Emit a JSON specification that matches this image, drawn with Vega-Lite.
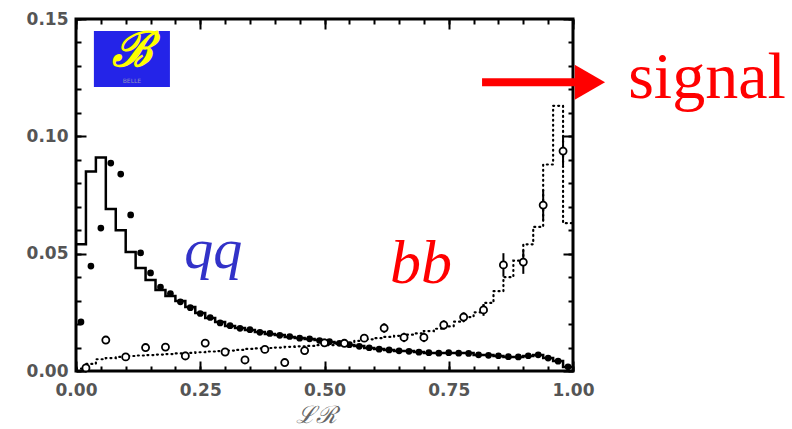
{
  "$schema": "https://vega.github.io/schema/vega-lite/v6.json",
  "width": 497,
  "height": 352,
  "autosize": {"type": "none"},
  "padding": {"left": 76, "top": 19, "right": 219, "bottom": 58},
  "background": "white",
  "config": {
    "view": {"stroke": "black", "strokeWidth": 3},
    "axis": {
      "domain": false, "grid": false, "tickColor": "black", "tickWidth": 2,
      "labelFont": "DejaVu Sans", "labelFontSize": 17, "labelFontWeight": "bold",
      "labelColor": "#555555", "labelFlush": false, "labelOverlap": false
    }
  },
  "datasets": {
    "qqhist": [
      {"lr": 0.00, "frac": 0.054}, {"lr": 0.02, "frac": 0.085}, {"lr": 0.04, "frac": 0.091}, {"lr": 0.06, "frac": 0.069},
      {"lr": 0.08, "frac": 0.060}, {"lr": 0.10, "frac": 0.0507}, {"lr": 0.12, "frac": 0.0439}, {"lr": 0.14, "frac": 0.0388},
      {"lr": 0.16, "frac": 0.0345}, {"lr": 0.18, "frac": 0.032}, {"lr": 0.20, "frac": 0.0298}, {"lr": 0.22, "frac": 0.0273},
      {"lr": 0.24, "frac": 0.0247}, {"lr": 0.26, "frac": 0.0226}, {"lr": 0.28, "frac": 0.0209}, {"lr": 0.30, "frac": 0.0192},
      {"lr": 0.32, "frac": 0.0183}, {"lr": 0.34, "frac": 0.0175}, {"lr": 0.36, "frac": 0.0166}, {"lr": 0.38, "frac": 0.0158},
      {"lr": 0.40, "frac": 0.0153}, {"lr": 0.42, "frac": 0.0145}, {"lr": 0.44, "frac": 0.0141}, {"lr": 0.46, "frac": 0.0136},
      {"lr": 0.48, "frac": 0.0132}, {"lr": 0.50, "frac": 0.0124}, {"lr": 0.52, "frac": 0.0119}, {"lr": 0.54, "frac": 0.0111},
      {"lr": 0.56, "frac": 0.0107}, {"lr": 0.58, "frac": 0.0098}, {"lr": 0.60, "frac": 0.0094}, {"lr": 0.62, "frac": 0.0089},
      {"lr": 0.64, "frac": 0.0085}, {"lr": 0.66, "frac": 0.0085}, {"lr": 0.68, "frac": 0.0081}, {"lr": 0.70, "frac": 0.0077},
      {"lr": 0.72, "frac": 0.0077}, {"lr": 0.74, "frac": 0.0077}, {"lr": 0.76, "frac": 0.0077}, {"lr": 0.78, "frac": 0.0077},
      {"lr": 0.80, "frac": 0.0068}, {"lr": 0.82, "frac": 0.0068}, {"lr": 0.84, "frac": 0.0064}, {"lr": 0.86, "frac": 0.006},
      {"lr": 0.88, "frac": 0.006}, {"lr": 0.90, "frac": 0.0064}, {"lr": 0.92, "frac": 0.0068}, {"lr": 0.94, "frac": 0.0055},
      {"lr": 0.96, "frac": 0.0043}, {"lr": 0.98, "frac": 0.0017}, {"lr": 1.00, "frac": 0.0017}
    ],
    "bbhist": [
      {"lr": 0.00, "frac": 0.001}, {"lr": 0.02, "frac": 0.003}, {"lr": 0.04, "frac": 0.005}, {"lr": 0.06, "frac": 0.0055},
      {"lr": 0.08, "frac": 0.006}, {"lr": 0.10, "frac": 0.0064}, {"lr": 0.12, "frac": 0.0066}, {"lr": 0.14, "frac": 0.0068},
      {"lr": 0.16, "frac": 0.007}, {"lr": 0.18, "frac": 0.0072}, {"lr": 0.20, "frac": 0.0075}, {"lr": 0.22, "frac": 0.0077},
      {"lr": 0.24, "frac": 0.008}, {"lr": 0.26, "frac": 0.0083}, {"lr": 0.28, "frac": 0.0085}, {"lr": 0.30, "frac": 0.0087},
      {"lr": 0.32, "frac": 0.009}, {"lr": 0.34, "frac": 0.0094}, {"lr": 0.36, "frac": 0.0096}, {"lr": 0.38, "frac": 0.0098},
      {"lr": 0.40, "frac": 0.010}, {"lr": 0.42, "frac": 0.0103}, {"lr": 0.44, "frac": 0.0105}, {"lr": 0.46, "frac": 0.0107},
      {"lr": 0.48, "frac": 0.011}, {"lr": 0.50, "frac": 0.011}, {"lr": 0.52, "frac": 0.0115}, {"lr": 0.54, "frac": 0.012},
      {"lr": 0.56, "frac": 0.0128}, {"lr": 0.58, "frac": 0.0135}, {"lr": 0.60, "frac": 0.014}, {"lr": 0.62, "frac": 0.0145},
      {"lr": 0.64, "frac": 0.015}, {"lr": 0.66, "frac": 0.0155}, {"lr": 0.68, "frac": 0.016}, {"lr": 0.70, "frac": 0.017},
      {"lr": 0.72, "frac": 0.018}, {"lr": 0.74, "frac": 0.019}, {"lr": 0.76, "frac": 0.021}, {"lr": 0.78, "frac": 0.023},
      {"lr": 0.80, "frac": 0.025}, {"lr": 0.82, "frac": 0.029}, {"lr": 0.84, "frac": 0.034}, {"lr": 0.86, "frac": 0.040},
      {"lr": 0.88, "frac": 0.047}, {"lr": 0.90, "frac": 0.054}, {"lr": 0.92, "frac": 0.0614}, {"lr": 0.94, "frac": 0.088},
      {"lr": 0.96, "frac": 0.113}, {"lr": 0.98, "frac": 0.063}, {"lr": 1.00, "frac": 0.063}
    ],
    "qqpts": [
      {"lr": 0.01, "frac": 0.0209}, {"lr": 0.03, "frac": 0.0447}, {"lr": 0.05, "frac": 0.0609}, {"lr": 0.07, "frac": 0.0886},
      {"lr": 0.09, "frac": 0.0839}, {"lr": 0.11, "frac": 0.0665}, {"lr": 0.13, "frac": 0.0503}, {"lr": 0.15, "frac": 0.0418},
      {"lr": 0.17, "frac": 0.0358}, {"lr": 0.19, "frac": 0.033}, {"lr": 0.21, "frac": 0.0295}, {"lr": 0.23, "frac": 0.027},
      {"lr": 0.25, "frac": 0.0245}, {"lr": 0.27, "frac": 0.0228}, {"lr": 0.29, "frac": 0.0205}, {"lr": 0.31, "frac": 0.0193},
      {"lr": 0.33, "frac": 0.0182}, {"lr": 0.35, "frac": 0.0176}, {"lr": 0.37, "frac": 0.0165}, {"lr": 0.39, "frac": 0.016},
      {"lr": 0.41, "frac": 0.0152}, {"lr": 0.43, "frac": 0.0147}, {"lr": 0.45, "frac": 0.014}, {"lr": 0.47, "frac": 0.0137},
      {"lr": 0.49, "frac": 0.013}, {"lr": 0.51, "frac": 0.0125}, {"lr": 0.53, "frac": 0.0118}, {"lr": 0.55, "frac": 0.0112},
      {"lr": 0.57, "frac": 0.0105}, {"lr": 0.59, "frac": 0.0099}, {"lr": 0.61, "frac": 0.0093}, {"lr": 0.63, "frac": 0.009},
      {"lr": 0.65, "frac": 0.0086}, {"lr": 0.67, "frac": 0.0084}, {"lr": 0.69, "frac": 0.008}, {"lr": 0.71, "frac": 0.0078},
      {"lr": 0.73, "frac": 0.0076}, {"lr": 0.75, "frac": 0.0078}, {"lr": 0.77, "frac": 0.0076}, {"lr": 0.79, "frac": 0.0075},
      {"lr": 0.81, "frac": 0.0069}, {"lr": 0.83, "frac": 0.0067}, {"lr": 0.85, "frac": 0.0065}, {"lr": 0.87, "frac": 0.0061},
      {"lr": 0.89, "frac": 0.006}, {"lr": 0.91, "frac": 0.0065}, {"lr": 0.93, "frac": 0.0069}, {"lr": 0.95, "frac": 0.0055},
      {"lr": 0.97, "frac": 0.0042}, {"lr": 0.99, "frac": 0.0018}
    ],
    "bbpts": [
      {"lr": 0.02, "frac": 0.0013, "err": 0.0015}, {"lr": 0.06, "frac": 0.0132, "err": 0.0015},
      {"lr": 0.10, "frac": 0.006, "err": 0.0015}, {"lr": 0.14, "frac": 0.010, "err": 0.0015},
      {"lr": 0.18, "frac": 0.0102, "err": 0.0015}, {"lr": 0.22, "frac": 0.0064, "err": 0.0015},
      {"lr": 0.26, "frac": 0.0119, "err": 0.0015}, {"lr": 0.30, "frac": 0.0081, "err": 0.0015},
      {"lr": 0.34, "frac": 0.0047, "err": 0.0015}, {"lr": 0.38, "frac": 0.0092, "err": 0.0015},
      {"lr": 0.42, "frac": 0.0036, "err": 0.0015}, {"lr": 0.46, "frac": 0.0087, "err": 0.0015},
      {"lr": 0.50, "frac": 0.012, "err": 0.0015}, {"lr": 0.54, "frac": 0.0118, "err": 0.0015},
      {"lr": 0.58, "frac": 0.014, "err": 0.0015}, {"lr": 0.62, "frac": 0.0183, "err": 0.002},
      {"lr": 0.66, "frac": 0.0143, "err": 0.002}, {"lr": 0.70, "frac": 0.0143, "err": 0.002},
      {"lr": 0.74, "frac": 0.0196, "err": 0.002}, {"lr": 0.78, "frac": 0.023, "err": 0.002},
      {"lr": 0.82, "frac": 0.026, "err": 0.0025}, {"lr": 0.86, "frac": 0.0452, "err": 0.005},
      {"lr": 0.90, "frac": 0.0464, "err": 0.005}, {"lr": 0.94, "frac": 0.0707, "err": 0.0065},
      {"lr": 0.98, "frac": 0.0937, "err": 0.006}
    ],
    "notes": [
      {"label": "qq", "lr": 0.276, "frac": 0.0439},
      {"label": "bb", "lr": 0.694, "frac": 0.0375},
      {"label": "signal", "lr": 1.111, "frac": 0.1163}
    ],
    "arrow": [
      {"lr": 0.817, "lr2": 1.005, "frac": 0.1231, "head": 1.034}
    ],
    "logo": [
      {"lr": 0.036, "lr2": 0.189, "frac": 0.121, "frac2": 0.1449, "mid": 0.1125, "b": 0.1358, "belle": 0.1237}
    ]
  },
  "resolve": {
    "scale": {"x": "shared", "y": "shared"},
    "axis": {"x": "independent", "y": "independent"}
  },
  "layer": [
    {
      "data": {"name": "bbhist"},
      "mark": {"type": "line", "interpolate": "step-after", "color": "black", "strokeWidth": 2.2, "strokeDash": [1, 4], "strokeCap": "round"},
      "encoding": {
        "x": {"field": "lr", "type": "quantitative", "scale": {"domain": [0, 1], "nice": false, "zero": false},
              "axis": {"orient": "bottom", "values": [0, 0.25, 0.5, 0.75, 1], "tickSize": -10, "format": ".2f", "labelPadding": 21,
                       "title": "ℒℛ", "titleFont": "DejaVu Serif", "titleFontSize": 24, "titleFontWeight": "normal", "titleFontStyle": "italic", "titleColor": "#666666", "titlePadding": 5, "titleX": 240}},
        "y": {"field": "frac", "type": "quantitative", "scale": {"domain": [0, 0.15], "nice": false, "zero": false},
              "axis": {"orient": "left", "values": [0, 0.05, 0.1, 0.15], "tickSize": -10, "format": ".2f", "labelPadding": 18, "title": null}}
      }
    },
    {
      "data": {"name": "qqhist"},
      "mark": {"type": "line", "interpolate": "step-after", "color": "black", "strokeWidth": 2.5},
      "encoding": {
        "x": {"field": "lr", "type": "quantitative", "scale": {"domain": [0, 1], "nice": false, "zero": false},
              "axis": {"orient": "bottom", "values": [0, 0.05, 0.1, 0.15, 0.2, 0.25, 0.3, 0.35, 0.4, 0.45, 0.5, 0.55, 0.6, 0.65, 0.7, 0.75, 0.8, 0.85, 0.9, 0.95, 1], "tickSize": -5, "labels": false, "title": null}},
        "y": {"field": "frac", "type": "quantitative", "scale": {"domain": [0, 0.15], "nice": false, "zero": false},
              "axis": {"orient": "left", "values": [0, 0.01, 0.02, 0.03, 0.04, 0.05, 0.06, 0.07, 0.08, 0.09, 0.1, 0.11, 0.12, 0.13, 0.14, 0.15], "tickSize": -5, "labels": false, "title": null}}
      }
    },
    {
      "data": {"name": "qqpts"},
      "mark": {"type": "point", "shape": "circle", "filled": true, "color": "black", "size": 45, "opacity": 1},
      "encoding": {
        "x": {"field": "lr", "type": "quantitative", "scale": {"domain": [0, 1], "nice": false, "zero": false},
              "axis": {"orient": "top", "values": [0, 0.25, 0.5, 0.75, 1], "tickSize": -10, "labels": false, "title": null}},
        "y": {"field": "frac", "type": "quantitative", "scale": {"domain": [0, 0.15], "nice": false, "zero": false},
              "axis": {"orient": "right", "values": [0, 0.05, 0.1, 0.15], "tickSize": -10, "labels": false, "title": null}}
      }
    },
    {
      "data": {"name": "bbpts"},
      "mark": {"type": "rule", "color": "black", "strokeWidth": 2},
      "encoding": {
        "x": {"field": "lr", "type": "quantitative", "scale": {"domain": [0, 1], "nice": false, "zero": false}, "axis": null},
        "y": {"field": "lo", "type": "quantitative", "scale": {"domain": [0, 0.15], "nice": false, "zero": false}, "axis": null},
        "y2": {"field": "hi"}
      },
      "transform": [
        {"calculate": "datum.frac - datum.err", "as": "lo"},
        {"calculate": "datum.frac + datum.err", "as": "hi"}
      ]
    },
    {
      "data": {"name": "bbpts"},
      "mark": {"type": "point", "shape": "circle", "filled": true, "fill": "white", "stroke": "black", "strokeWidth": 1.8, "size": 50, "opacity": 1},
      "encoding": {
        "x": {"field": "lr", "type": "quantitative", "scale": {"domain": [0, 1], "nice": false, "zero": false},
              "axis": {"orient": "top", "values": [0, 0.05, 0.1, 0.15, 0.2, 0.25, 0.3, 0.35, 0.4, 0.45, 0.5, 0.55, 0.6, 0.65, 0.7, 0.75, 0.8, 0.85, 0.9, 0.95, 1], "tickSize": -5, "labels": false, "title": null}},
        "y": {"field": "frac", "type": "quantitative", "scale": {"domain": [0, 0.15], "nice": false, "zero": false},
              "axis": {"orient": "right", "values": [0, 0.01, 0.02, 0.03, 0.04, 0.05, 0.06, 0.07, 0.08, 0.09, 0.1, 0.11, 0.12, 0.13, 0.14, 0.15], "tickSize": -5, "labels": false, "title": null}}
      }
    },
    {
      "data": {"name": "logo"},
      "mark": {"type": "rect", "color": "#2424e8", "opacity": 1},
      "encoding": {
        "x": {"field": "lr", "type": "quantitative", "scale": {"domain": [0, 1], "nice": false, "zero": false}, "axis": null},
        "x2": {"field": "lr2"},
        "y": {"field": "frac", "type": "quantitative", "scale": {"domain": [0, 0.15], "nice": false, "zero": false}, "axis": null},
        "y2": {"field": "frac2"}
      }
    },
    {
      "data": {"name": "logo"},
      "mark": {"type": "text", "text": "ℬ", "font": "DejaVu Serif", "fontStyle": "italic", "fontWeight": "bold", "fontSize": 48, "color": "#ffff00", "align": "center", "baseline": "middle"},
      "encoding": {
        "x": {"field": "mid", "type": "quantitative", "scale": {"domain": [0, 1], "nice": false, "zero": false}, "axis": null},
        "y": {"field": "b", "type": "quantitative", "scale": {"domain": [0, 0.15], "nice": false, "zero": false}, "axis": null}
      }
    },
    {
      "data": {"name": "logo"},
      "mark": {"type": "text", "text": "BELLE", "font": "DejaVu Sans", "fontSize": 6, "color": "#9090c0", "align": "center", "baseline": "middle"},
      "encoding": {
        "x": {"field": "mid", "type": "quantitative", "scale": {"domain": [0, 1], "nice": false, "zero": false}, "axis": null},
        "y": {"field": "belle", "type": "quantitative", "scale": {"domain": [0, 0.15], "nice": false, "zero": false}, "axis": null}
      }
    },
    {
      "data": {"name": "notes"},
      "transform": [{"filter": "datum.label === 'qq'"}],
      "mark": {"type": "text", "font": "Liberation Serif", "fontStyle": "italic", "fontSize": 58, "color": "#3232c8", "align": "center", "baseline": "alphabetic"},
      "encoding": {
        "x": {"field": "lr", "type": "quantitative", "scale": {"domain": [0, 1], "nice": false, "zero": false}, "axis": null},
        "y": {"field": "frac", "type": "quantitative", "scale": {"domain": [0, 0.15], "nice": false, "zero": false}, "axis": null},
        "text": {"field": "label"}
      }
    },
    {
      "data": {"name": "notes"},
      "transform": [{"filter": "datum.label === 'bb'"}],
      "mark": {"type": "text", "font": "Liberation Serif", "fontStyle": "italic", "fontSize": 62, "color": "#ff0000", "align": "center", "baseline": "alphabetic"},
      "encoding": {
        "x": {"field": "lr", "type": "quantitative", "scale": {"domain": [0, 1], "nice": false, "zero": false}, "axis": null},
        "y": {"field": "frac", "type": "quantitative", "scale": {"domain": [0, 0.15], "nice": false, "zero": false}, "axis": null},
        "text": {"field": "label"}
      }
    },
    {
      "data": {"name": "notes"},
      "transform": [{"filter": "datum.label === 'signal'"}],
      "mark": {"type": "text", "font": "Liberation Serif", "fontSize": 66, "color": "#ff0000", "align": "left", "baseline": "alphabetic"},
      "encoding": {
        "x": {"field": "lr", "type": "quantitative", "scale": {"domain": [0, 1], "nice": false, "zero": false}, "axis": null},
        "y": {"field": "frac", "type": "quantitative", "scale": {"domain": [0, 0.15], "nice": false, "zero": false}, "axis": null},
        "text": {"field": "label"}
      }
    },
    {
      "data": {"name": "arrow"},
      "mark": {"type": "rule", "color": "#ff0000", "strokeWidth": 8},
      "encoding": {
        "x": {"field": "lr", "type": "quantitative", "scale": {"domain": [0, 1], "nice": false, "zero": false}, "axis": null},
        "x2": {"field": "lr2"},
        "y": {"field": "frac", "type": "quantitative", "scale": {"domain": [0, 0.15], "nice": false, "zero": false}, "axis": null}
      }
    },
    {
      "data": {"name": "arrow"},
      "mark": {"type": "point", "shape": "triangle-right", "filled": true, "color": "#ff0000", "size": 1225, "opacity": 1},
      "encoding": {
        "x": {"field": "head", "type": "quantitative", "scale": {"domain": [0, 1], "nice": false, "zero": false}, "axis": null},
        "y": {"field": "frac", "type": "quantitative", "scale": {"domain": [0, 0.15], "nice": false, "zero": false}, "axis": null}
      }
    }
  ]
}
